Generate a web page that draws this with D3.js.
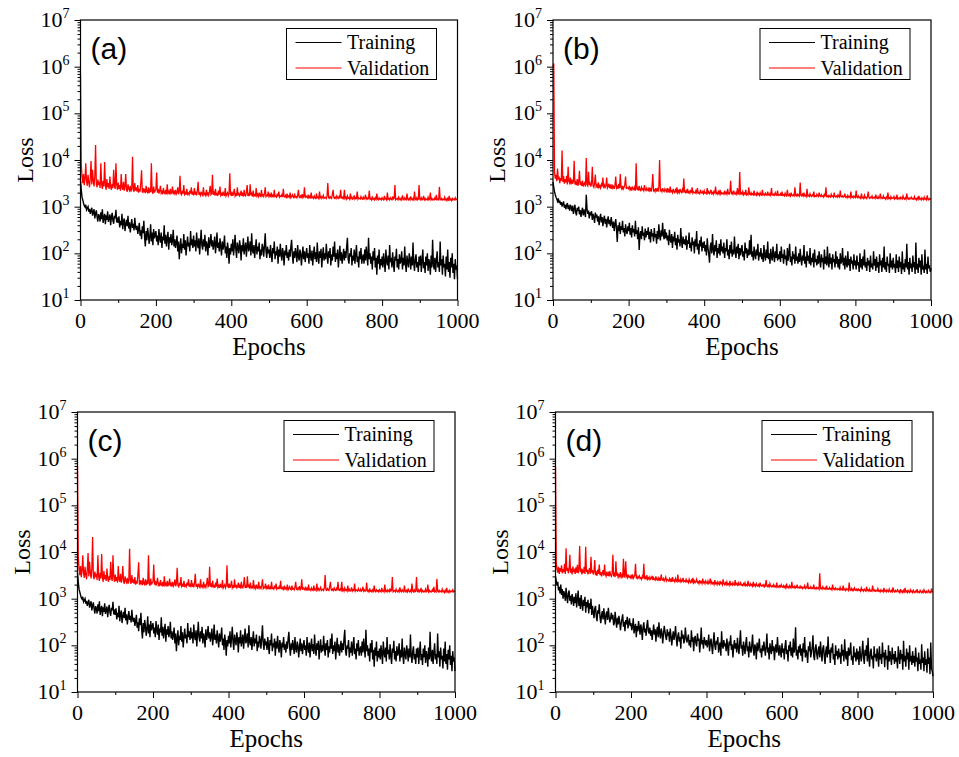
<!DOCTYPE html>
<html lang="en">
<head>
<meta charset="UTF-8">
<title>Training and validation loss</title>
<script src="https://d3js.org/d3.v7.min.js"></script>
<style>
  body { margin: 0; background: #fff; }
</style>
</head>
<body>
<svg id="chart" width="959" height="757"></svg>
<script>
// loss every 2 epochs (epoch 0 .. 1000)
const trainA = [
  3600, 2300, 1600, 1400, 1200, 1050, 980, 1100, 850, 920, 1000, 780, 900, 700, 820, 950, 640, 760, 880, 560, 720, 830, 600, 480, 690,
  620, 480, 760, 540, 880, 450, 590, 700, 420, 650, 520, 800, 470, 560, 680, 400, 600, 740, 500, 430, 640, 560, 860, 460, 580,
  450, 620, 360, 500, 400, 700, 330, 480, 560, 300, 420, 520, 380, 640, 340, 460, 280, 400, 540, 350, 430, 310, 580, 370, 320,
  390, 260, 330, 450, 240, 310, 200, 380, 270, 500, 220, 140, 300, 190, 350, 260, 160, 230, 420, 180, 280, 150, 330, 210, 250,
  300, 180, 240, 150, 330, 210, 170, 280, 130, 230, 190, 400, 160, 250, 140, 210, 290, 120, 220, 170, 260, 150, 190, 320, 140,
  200, 130, 170, 240, 110, 180, 75, 140, 210, 100, 160, 130, 260, 120, 190, 90, 150, 230, 140, 170, 110, 300, 150, 200, 130,
  240, 140, 190, 110, 280, 160, 130, 210, 95, 170, 320, 150, 120, 200, 140, 250, 110, 180, 150, 90, 220, 130, 170, 260, 140,
  190, 120, 160, 230, 100, 150, 280, 130, 170, 110, 210, 140, 90, 180, 120, 150, 240, 100, 140, 80, 170, 120, 60, 130, 95,
  160, 110, 200, 90, 140, 250, 120, 80, 170, 130, 100, 190, 140, 70, 150, 110, 210, 95, 130, 170, 85, 140, 230, 110, 130,
  180, 90, 270, 120, 100, 150, 80, 130, 200, 95, 140, 110, 170, 75, 120, 90, 160, 130, 85, 150, 270, 110, 80, 140, 100,
  120, 80, 150, 95, 65, 130, 100, 180, 75, 110, 90, 140, 60, 120, 85, 160, 95, 70, 130, 100, 55, 115, 90, 150, 80,
  105, 70, 120, 85, 140, 195, 90, 60, 110, 80, 130, 95, 65, 150, 85, 70, 120, 100, 55, 90, 140, 75, 110, 65, 95,
  130, 80, 100, 60, 150, 90, 70, 115, 55, 95, 140, 75, 105, 65, 170, 85, 60, 110, 80, 125, 50, 90, 135, 70, 100,
  75, 160, 90, 60, 110, 80, 130, 55, 95, 70, 140, 85, 180, 65, 100, 75, 120, 50, 90, 145, 70, 105, 60, 85, 125,
  70, 110, 80, 140, 215, 75, 60, 100, 85, 130, 55, 90, 70, 120, 60, 95, 150, 65, 85, 50, 110, 75, 130, 60, 80,
  95, 60, 120, 70, 140, 85, 55, 215, 75, 100, 60, 85, 45, 110, 70, 130, 50, 80, 35, 90, 60, 120, 45, 75, 55,
  85, 50, 100, 65, 40, 120, 70, 55, 90, 45, 150, 65, 80, 50, 105, 60, 40, 85, 70, 125, 50, 75, 45, 95, 60,
  70, 110, 45, 80, 55, 140, 60, 40, 90, 65, 50, 100, 75, 45, 85, 55, 170, 60, 42, 75, 95, 50, 65, 40, 85,
  55, 90, 40, 70, 120, 48, 65, 38, 85, 55, 100, 42, 75, 60, 35, 90, 50, 195, 60, 45, 80, 40, 70, 110, 50,
  65, 40, 180, 55, 75, 35, 90, 50, 60, 32, 85, 45, 120, 40, 65, 30, 80, 50, 100, 38, 60, 28, 75, 45, 55,
  28
];
const valA = [
  700000, 8000, 4500, 3200, 5000, 2900, 4000, 8500, 3500, 2800, 4800, 3300, 2600, 4200, 9500, 3000, 6200, 3600, 2700, 4500, 21000, 3100, 2600, 3800, 2900,
  3400, 2500, 8500, 3000, 2400, 3600, 2700, 9100, 2900, 2300, 3900, 2600, 3200, 2400, 4400, 2700, 2300, 3100, 2500, 6200, 2800, 2400, 8500, 3000, 2300,
  3300, 2400, 2900, 2200, 5000, 2600, 2300, 3400, 2200, 2700, 5000, 2300, 2100, 3000, 2400, 2200, 2800, 2100, 2500, 11700, 2300, 2100, 3200, 2200, 2600,
  2100, 2900, 2000, 2400, 2100, 3300, 6000, 2000, 2500, 2100, 2300, 1950, 2800, 2100, 2000, 2600, 1950, 2300, 2050, 8500, 2100, 1900, 2700, 2000, 2200,
  2300, 5400, 2000, 2400, 1900, 2200, 2800, 1950, 2100, 1850, 2500, 2000, 1900, 2300, 1850, 3000, 1950, 2100, 1850, 2400, 1900, 2000, 2700, 1850, 2100,
  1900, 2300, 1850, 2000, 2600, 1850, 2100, 4600, 1900, 1800, 2200, 1900, 2900, 1850, 2000, 1800, 2400, 1850, 1950, 1800, 2200, 1900, 2600, 1800, 2000,
  1850, 2500, 1800, 2000, 1750, 2200, 3400, 1800, 1950, 1750, 2100, 1850, 1750, 2600, 1800, 1900, 1750, 2300, 1800, 1950, 1750, 2100, 2800, 1800, 1900,
  4800, 1800, 2000, 1750, 2400, 1800, 1900, 1700, 2200, 1800, 2700, 1750, 1900, 1700, 2100, 1800, 1750, 2500, 1700, 1850, 2000, 1700, 1900, 5200, 1800,
  1750, 2100, 1700, 1900, 2400, 1700, 1850, 1700, 2600, 1750, 2000, 1700, 1800, 2200, 1700, 1900, 1650, 2300, 1750, 1700, 2000, 2900, 1700, 1850, 1700,
  3000, 1750, 1900, 1650, 2200, 1700, 1800, 1650, 2500, 1700, 1850, 1650, 2000, 1700, 1650, 2300, 1700, 1800, 1650, 1900, 2600, 1650, 1750, 1700, 2100,
  1650, 1800, 1600, 2000, 1650, 1750, 1600, 2300, 1650, 1700, 1600, 1900, 1650, 2100, 1600, 1700, 1650, 1800, 1600, 2400, 1650, 1600, 1750, 1600, 1900,
  1600, 1700, 1600, 2000, 1550, 1650, 1800, 1600, 1550, 1900, 1600, 1650, 1550, 1750, 2300, 1600, 1550, 1700, 1600, 1850, 1550, 1650, 2600, 1550, 1700,
  1600, 1550, 1800, 1550, 1650, 1500, 2000, 1550, 1600, 1500, 1700, 1550, 1500, 1900, 1550, 1600, 1500, 2100, 1550, 1650, 1500, 1600, 1750, 1500, 1550,
  1600, 1500, 1700, 3200, 1550, 1500, 1650, 1550, 1500, 1800, 2300, 1550, 1500, 1600, 1500, 1700, 1550, 1500, 1650, 1500, 2300, 1550, 1500, 1600, 1500,
  2300, 1500, 1600, 1450, 1700, 1500, 1550, 1450, 1900, 1500, 1600, 1450, 1500, 1750, 1450, 1550, 1500, 2100, 1450, 1550, 1500, 1450, 1650, 1500, 1450,
  1600, 1450, 1500, 1800, 1450, 1550, 1450, 1500, 2200, 1450, 1500, 1400, 1650, 1450, 1500, 1400, 1550, 1450, 1900, 1450, 1400, 1550, 1450, 1500, 1400,
  1550, 1450, 1400, 1700, 1450, 1500, 1400, 2000, 1450, 1500, 1400, 1550, 1450, 1400, 1650, 1450, 1500, 2900, 1400, 1450, 1500, 1400, 1600, 1450, 1400,
  1500, 1400, 1750, 1450, 1400, 1550, 1450, 1400, 1900, 1450, 1400, 1500, 1400, 1650, 1450, 1400, 1500, 1400, 2100, 1450, 1400, 1550, 1400, 1450, 2900,
  1450, 1400, 1550, 1400, 1450, 1700, 1400, 1500, 1400, 1450, 1400, 1600, 1400, 1450, 2000, 1400, 1500, 1400, 1450, 1400, 1550, 1400, 1800, 1400, 1450,
  1400, 2650, 1450, 1400, 1500, 1400, 1450, 1400, 1600, 1400, 1450, 1350, 1500, 1400, 1700, 1400, 1450, 1350, 1500, 1400, 1450, 1400, 1550, 1400, 1450,
  1400
];
const trainB = [
  3400, 2600, 2100, 1800, 1600, 1450, 1300, 1500, 1200, 1350, 1100, 1250, 1000, 1150, 1300, 950, 1100, 880, 1050, 1200, 900, 1000, 820, 1100, 950,
  800, 1050, 700, 900, 1100, 750, 650, 950, 800, 1000, 680, 850, 600, 780, 950, 650, 870, 720, 600, 1800, 900, 700, 820, 560, 760,
  650, 800, 520, 700, 600, 450, 750, 580, 680, 480, 620, 400, 560, 700, 460, 600, 380, 520, 640, 430, 550, 360, 500, 620, 420,
  520, 380, 600, 450, 350, 480, 300, 420, 540, 330, 175, 400, 300, 460, 260, 380, 320, 500, 280, 350, 230, 420, 300, 260, 380,
  300, 450, 250, 350, 220, 400, 280, 330, 230, 500, 260, 310, 200, 360, 118, 250, 300, 200, 380, 240, 280, 190, 340, 220, 300,
  250, 360, 200, 290, 170, 330, 230, 270, 180, 350, 220, 260, 160, 300, 200, 420, 240, 190, 310, 230, 450, 250, 200, 330, 210,
  280, 190, 240, 150, 320, 200, 170, 260, 130, 230, 180, 290, 150, 210, 120, 250, 170, 200, 140, 350, 180, 130, 230, 160, 200,
  150, 240, 120, 190, 160, 280, 130, 170, 110, 220, 150, 180, 100, 200, 140, 300, 120, 160, 95, 190, 140, 230, 110, 170, 130,
  180, 110, 150, 90, 210, 130, 100, 63, 140, 170, 100, 260, 120, 90, 150, 110, 190, 80, 130, 100, 160, 90, 200, 110, 140,
  100, 170, 80, 130, 110, 200, 90, 120, 75, 150, 100, 180, 85, 120, 95, 230, 110, 80, 140, 100, 160, 75, 130, 90, 120,
  150, 85, 110, 70, 170, 100, 130, 80, 120, 90, 190, 95, 250, 85, 110, 70, 140, 95, 75, 120, 90, 160, 70, 105, 85,
  130, 75, 100, 65, 150, 90, 70, 120, 80, 180, 75, 100, 60, 125, 85, 70, 140, 90, 65, 110, 80, 160, 70, 95, 75,
  110, 65, 140, 80, 95, 60, 120, 75, 90, 55, 130, 70, 100, 160, 65, 85, 55, 110, 75, 95, 60, 140, 70, 85, 60,
  100, 65, 125, 75, 55, 90, 70, 150, 60, 85, 50, 110, 70, 90, 60, 130, 55, 80, 65, 100, 50, 120, 65, 75, 55,
  90, 60, 110, 70, 50, 95, 65, 80, 45, 120, 60, 85, 55, 140, 65, 50, 100, 60, 80, 45, 95, 65, 75, 50, 110,
  60, 85, 50, 75, 45, 100, 60, 70, 130, 55, 80, 45, 90, 60, 50, 110, 55, 75, 42, 85, 60, 70, 45, 95, 55,
  70, 45, 90, 55, 65, 40, 100, 50, 75, 45, 85, 55, 120, 50, 65, 42, 80, 55, 70, 40, 90, 50, 60, 45, 110,
  55, 75, 42, 85, 50, 65, 38, 95, 55, 70, 40, 80, 50, 140, 45, 65, 40, 85, 55, 60, 38, 100, 50, 70, 45,
  80, 50, 60, 38, 95, 48, 70, 40, 85, 50, 65, 36, 110, 45, 60, 40, 75, 50, 160, 45, 65, 35, 80, 48, 60,
  40, 90, 50, 65, 36, 170, 45, 60, 38, 80, 50, 70, 35, 95, 45, 55, 38, 120, 45, 60, 36, 85, 48, 55, 40,
  48
];
const valB = [
  1000000, 1170000, 5500, 4000, 4800, 3500, 6600, 3800, 4400, 3200, 4100, 3600, 16000, 3400, 4500, 3100, 3900, 3300, 4600, 3000, 7200, 3500, 3200, 4200, 3000,
  3800, 3100, 3500, 9600, 3000, 3300, 2900, 3900, 2800, 3400, 5900, 2900, 3200, 2800, 3600, 2700, 3100, 3300, 2700, 11000, 3000, 2800, 5600, 2900, 3200,
  2700, 3100, 7200, 2800, 2600, 3200, 4900, 2700, 2900, 2500, 3300, 2600, 2800, 2500, 3000, 2700, 4200, 2500, 2900, 2600, 2800, 4200, 2500, 2700, 3100,
  2500, 2800, 2400, 3000, 2500, 2700, 2400, 2900, 4400, 2500, 2700, 2400, 3100, 2500, 5000, 2600, 2400, 2800, 2400, 2600, 3000, 4400, 2400, 2600, 2500,
  2400, 2800, 2300, 2500, 2200, 2700, 2400, 2300, 2600, 2200, 8500, 2300, 2500, 2200, 2800, 2300, 2200, 2600, 2300, 2400, 2200, 2900, 2300, 2200, 2500,
  2300, 2200, 2600, 2200, 2400, 2100, 2700, 5000, 2200, 2300, 2100, 2500, 2200, 2400, 2100, 2600, 10000, 2200, 2300, 2100, 2500, 2200, 2100, 2400, 2200,
  2100, 2500, 2100, 2300, 2000, 2700, 2100, 2200, 2000, 2400, 2100, 2000, 2300, 2100, 2600, 2000, 2200, 2000, 2400, 2100, 2000, 2300, 2000, 4000, 2100,
  2000, 2200, 1950, 2400, 2000, 2100, 1950, 2300, 2000, 2600, 1950, 2100, 2000, 1950, 2200, 2000, 2500, 1950, 2000, 1900, 2300, 2000, 1950, 2100, 1900,
  2200, 1950, 2000, 1900, 2500, 1950, 2100, 1900, 2000, 2300, 1900, 2000, 1850, 2200, 1900, 2700, 1900, 2000, 1850, 2100, 1900, 2300, 1850, 2000, 1900,
  1950, 1850, 2200, 1900, 2000, 1850, 2400, 1900, 1850, 2100, 3600, 1850, 2000, 1850, 2200, 1900, 1850, 2000, 1850, 2500, 1900, 1850, 5500, 1900, 2000,
  1850, 2100, 1800, 1950, 1850, 2300, 1800, 1900, 1800, 2600, 1850, 1800, 2000, 1800, 1900, 1800, 2200, 1800, 1850, 1750, 2100, 1800, 1900, 1750, 2000,
  1800, 1750, 2300, 1800, 1850, 1750, 1950, 1800, 1750, 2100, 1800, 1750, 1900, 1750, 2500, 1800, 1750, 1850, 1750, 2000, 1800, 1750, 2200, 1750, 1800,
  1750, 1900, 1700, 2100, 1750, 1800, 1700, 1950, 1750, 1700, 2300, 1750, 1700, 1850, 1700, 2000, 1750, 1700, 1800, 1700, 2600, 1750, 1700, 1850, 1700,
  1800, 1700, 3300, 1750, 1700, 1850, 1700, 2000, 1700, 1750, 1650, 2400, 1700, 1750, 1650, 1900, 1700, 1650, 1800, 1700, 2100, 1650, 1700, 1650, 1850,
  1700, 1650, 2000, 1700, 1650, 1800, 1650, 1700, 1600, 1900, 1650, 2600, 1650, 1700, 1600, 1750, 1650, 1600, 1850, 1650, 1700, 1600, 2000, 1650, 1600,
  1700, 1600, 1800, 1650, 1600, 2200, 1650, 1600, 1700, 1600, 1650, 1900, 1600, 1650, 1550, 1750, 1600, 1650, 1550, 2100, 1600, 1650, 1550, 1700, 1600,
  1550, 2200, 1600, 1550, 1700, 1550, 1600, 1500, 1900, 1550, 1600, 1500, 1750, 1550, 1600, 1500, 1650, 2100, 1550, 1500, 1600, 1550, 1700, 1500, 1550,
  1600, 1500, 1800, 1550, 1500, 1650, 1500, 1550, 1900, 1500, 1550, 1500, 1700, 1500, 1550, 1450, 1600, 1500, 2000, 1500, 1550, 1450, 1650, 1500, 1550,
  1500, 1650, 1450, 1550, 1500, 1800, 1450, 1500, 1550, 1450, 1600, 1500, 1450, 1700, 1500, 1450, 1550, 1450, 1900, 1500, 1450, 1550, 1450, 1500, 1600,
  1450, 1500, 1450, 1650, 1450, 1500, 1400, 1550, 1450, 1700, 1450, 1500, 1400, 1550, 1450, 1400, 1600, 1450, 1500, 1400, 1750, 1450, 1400, 1500, 1450,
  1500
];
const trainD = [
  3000, 2400, 1900, 2300, 1500, 1800, 1300, 2000, 1200, 1600, 1000, 1450, 1250, 900, 1700, 1100, 800, 1300, 1500, 900, 1150, 750, 1250, 1000, 700,
  1100, 800, 1300, 650, 950, 1500, 700, 1050, 600, 1200, 800, 550, 950, 700, 1100, 500, 850, 650, 950, 480, 800, 600, 1000, 450, 700,
  520, 380, 610, 700, 420, 330, 560, 480, 760, 390, 300, 450, 540, 360, 620, 410, 280, 470, 530, 350, 640, 420, 310, 380, 500,
  360, 450, 270, 300, 520, 340, 240, 390, 280, 430, 330, 210, 290, 370, 460, 250, 320, 200, 350, 280, 410, 230, 300, 380, 260,
  300, 210, 250, 380, 180, 230, 290, 150, 260, 200, 330, 240, 170, 280, 220, 130, 250, 310, 190, 230, 160, 270, 350, 200, 180,
  240, 160, 210, 130, 190, 280, 170, 220, 120, 200, 250, 150, 310, 180, 140, 230, 190, 110, 170, 260, 200, 150, 130, 220, 170,
  180, 120, 230, 160, 100, 150, 200, 130, 170, 260, 140, 95, 160, 190, 120, 150, 85, 210, 140, 170, 110, 130, 240, 150, 115,
  140, 170, 100, 130, 90, 210, 120, 150, 75, 130, 160, 110, 95, 180, 125, 140, 70, 115, 240, 105, 130, 85, 150, 120, 100,
  130, 90, 115, 170, 75, 110, 140, 95, 65, 120, 190, 100, 80, 125, 105, 150, 70, 95, 115, 60, 200, 100, 85, 130, 95,
  110, 75, 140, 95, 60, 120, 100, 165, 80, 105, 55, 95, 130, 85, 110, 70, 145, 90, 65, 115, 210, 85, 100, 60, 120,
  90, 65, 110, 150, 75, 95, 55, 120, 85, 70, 100, 170, 80, 60, 105, 90, 50, 115, 75, 95, 140, 70, 85, 55, 100,
  75, 120, 85, 60, 95, 180, 70, 90, 50, 110, 80, 65, 130, 75, 95, 48, 85, 105, 70, 150, 80, 60, 100, 75, 55,
  110, 70, 85, 50, 95, 130, 65, 80, 45, 100, 75, 120, 60, 90, 55, 140, 70, 85, 245, 60, 80, 50, 95, 70, 105,
  60, 85, 45, 110, 70, 150, 55, 80, 65, 42, 95, 75, 120, 55, 70, 90, 165, 60, 48, 85, 105, 65, 50, 80, 95,
  55, 120, 70, 45, 85, 100, 60, 40, 75, 95, 55, 155, 65, 80, 42, 90, 70, 110, 50, 65, 38, 100, 60, 75, 50,
  85, 55, 70, 40, 105, 60, 80, 45, 135, 65, 50, 75, 36, 90, 60, 70, 115, 48, 60, 38, 95, 55, 70, 45, 85,
  50, 75, 38, 95, 60, 45, 70, 125, 55, 40, 80, 60, 100, 45, 145, 55, 35, 70, 85, 50, 60, 32, 95, 55, 65,
  45, 85, 60, 35, 95, 50, 65, 40, 115, 55, 70, 34, 80, 50, 60, 30, 100, 45, 75, 55, 38, 90, 50, 65, 40,
  75, 45, 55, 32, 95, 60, 40, 80, 50, 65, 30, 125, 45, 60, 35, 85, 50, 70, 30, 100, 45, 60, 38, 75, 42,
  60, 35, 90, 45, 55, 28, 70, 40, 50, 30, 105, 42, 55, 28, 75, 38, 50, 26, 85, 40, 55, 24, 115, 32, 28,
  22
];
const valD = [
  670000, 6000, 4200, 3600, 4800, 3400, 4500, 3800, 5200, 3500, 4300, 3700, 5600, 3400, 12000, 3900, 4600, 3500, 4200, 8700, 3600, 4400, 3300, 4900, 3700,
  4100, 3400, 4700, 3600, 5300, 3500, 4200, 13500, 3700, 4400, 3300, 4000, 3600, 4800, 3400, 13000, 3700, 4200, 3300, 3900, 4500, 3400, 7900, 3600, 4100,
  3300, 3800, 6700, 3200, 3600, 3100, 4200, 3400, 5400, 3200, 3700, 3000, 3500, 4100, 3100, 5400, 3300, 3000, 3800, 3100, 3500, 3000, 3900, 3200, 3000,
  3400, 8700, 3000, 3600, 2900, 6300, 3100, 3400, 2900, 3300, 3000, 3700, 2900, 3200, 2800, 7200, 3000, 2900, 6300, 3100, 2800, 3300, 2900, 3000, 2800,
  3100, 2800, 3300, 2700, 2900, 3200, 5600, 2700, 3000, 2700, 2900, 3100, 2700, 2800, 2600, 3000, 2700, 5600, 2600, 2900, 2700, 3200, 2600, 2800, 2600,
  2900, 2600, 2700, 3100, 2500, 2800, 2600, 2500, 3000, 2600, 2500, 2800, 2500, 2700, 2400, 3300, 2600, 2500, 2700, 2400, 2600, 2900, 2400, 2600, 2500,
  2400, 2700, 2400, 2600, 2300, 2900, 2400, 2500, 2300, 2700, 2400, 2300, 3300, 2400, 2500, 2300, 2600, 2300, 2400, 2800, 2300, 2400, 2300, 2600, 2300,
  2400, 2200, 2600, 2300, 2200, 2500, 2300, 2800, 2200, 2400, 2200, 2300, 2600, 2200, 2300, 2100, 2500, 2200, 2300, 2100, 2700, 2200, 2300, 2100, 2400,
  2200, 2100, 2400, 2100, 2200, 2700, 2100, 2300, 2100, 2200, 2000, 2500, 2100, 2200, 2000, 2300, 2100, 2000, 2400, 2100, 2200, 2000, 2600, 2100, 2000,
  2200, 2000, 2300, 2000, 2100, 1950, 2400, 2000, 2100, 1950, 2200, 2000, 1950, 2500, 2000, 2100, 1950, 2200, 1950, 2000, 2300, 1950, 2000, 1900, 2100,
  1950, 2200, 1900, 2000, 1900, 2400, 1950, 1900, 2100, 1900, 2000, 1850, 2300, 1900, 2000, 1850, 2100, 1900, 1850, 2000, 1850, 2200, 1900, 1850, 1950,
  1850, 2000, 1800, 1900, 2500, 1850, 1800, 1950, 1800, 2100, 1850, 1800, 1900, 1800, 2000, 1800, 1850, 1750, 2200, 1800, 1850, 1750, 1900, 1800, 2000,
  1800, 1750, 1900, 1750, 1850, 1700, 2100, 1750, 1800, 1700, 1900, 1750, 1700, 2300, 1750, 1800, 1700, 1850, 1700, 1750, 2000, 1700, 1750, 1700, 1850,
  1700, 1800, 1650, 1750, 1700, 1900, 1650, 1750, 1700, 2200, 1650, 1700, 1650, 1800, 1650, 1700, 1650, 2000, 1650, 1700, 1600, 1750, 1650, 1700, 1600,
  3500, 1650, 1700, 1600, 1800, 1650, 1600, 1700, 1600, 1900, 1600, 1650, 1600, 1750, 1600, 1650, 1550, 2000, 1600, 1650, 1550, 1700, 1600, 1550, 1650,
  1600, 1550, 1750, 1550, 1600, 1550, 1900, 1550, 1600, 1500, 1650, 1550, 1600, 1500, 2200, 1550, 1500, 1650, 1500, 1600, 1500, 1700, 1550, 1500, 1600,
  1500, 1600, 1500, 1550, 1450, 1700, 1500, 1550, 1450, 1600, 1500, 1450, 1800, 1500, 1550, 1450, 1600, 1450, 1500, 1450, 1900, 1500, 1450, 1550, 1450,
  1500, 1450, 1650, 1450, 1500, 1400, 1550, 1450, 1500, 1400, 1700, 1450, 1500, 1400, 1550, 1450, 1400, 1600, 1450, 1400, 1500, 1400, 1750, 1450, 1400,
  1500, 1400, 1450, 1550, 1400, 1450, 1350, 1600, 1400, 1450, 1350, 1500, 1400, 1700, 1400, 1450, 1350, 1500, 1400, 1350, 1550, 1400, 1450, 1350, 1500,
  1400, 1350, 1450, 1400, 1600, 1350, 1400, 1350, 1500, 1400, 1350, 1450, 1350, 1550, 1400, 1350, 1450, 1350, 1400, 1500, 1350, 1400, 1350, 1650, 1400,
  1400
];

const maxEpoch = 1000;
const xTicks = [0, 200, 400, 600, 800, 1000];
const xMinorTicks = [100, 300, 500, 700, 900];
const yExponents = [1, 2, 3, 4, 5, 6, 7];
const seriesNames = ["Training", "Validation"];
const seriesColors = ["#000000", "#ff0000"];

const serif = '"Liberation Serif", "Times New Roman", Times, serif';
const sans = '"Liberation Sans", Arial, Helvetica, sans-serif';

// panel (c) shows the same run as panel (a)
const panels = [
  { tag: "(a)", left: 80.5, right: 457.5, top: 20, bottom: 300, train: trainA, val: valA },
  { tag: "(b)", left: 553, right: 931, top: 20, bottom: 300, train: trainB, val: valB },
  { tag: "(c)", left: 77.5, right: 455, top: 412, bottom: 692, train: trainA, val: valA },
  { tag: "(d)", left: 555.5, right: 933, top: 412, bottom: 692, train: trainD, val: valD }
];

const svg = d3.select("#chart");

panels.forEach(p => {
  const x = d3.scaleLinear().domain([0, maxEpoch]).range([p.left, p.right]);
  const y = d3.scaleLog().domain([10, 1e7]).range([p.bottom, p.top]);
  const g = svg.append("g");

  const minorY = [];
  yExponents.slice(0, -1).forEach(e => {
    for (let k = 2; k <= 9; k++) minorY.push(k * Math.pow(10, e));
  });

  // ticks
  const tickAxis = (axis, tr) => g.append("g")
    .attr("transform", tr)
    .call(axis.tickFormat("").tickSizeOuter(0))
    .call(a => a.select(".domain").remove());
  tickAxis(d3.axisLeft(y).tickValues(minorY).tickSize(3), `translate(${p.left},0)`);
  tickAxis(d3.axisLeft(y).tickValues(yExponents.map(e => Math.pow(10, e))).tickSize(6), `translate(${p.left},0)`);
  tickAxis(d3.axisBottom(x).tickValues(xMinorTicks).tickSize(3), `translate(0,${p.bottom})`);
  tickAxis(d3.axisBottom(x).tickValues(xTicks).tickSize(6), `translate(0,${p.bottom})`);
  g.selectAll(".tick line").attr("stroke", "#000").attr("stroke-width", 1);

  // tick labels
  g.selectAll(".xlab")
    .data(xTicks)
    .enter()
    .append("text")
    .attr("x", d => x(d))
    .attr("y", p.bottom + 28)
    .attr("text-anchor", "middle")
    .style("font-family", serif)
    .style("font-size", "22px")
    .text(d => d);

  const ylab = g.selectAll(".ylab")
    .data(yExponents)
    .enter()
    .append("text")
    .attr("x", p.left - 11)
    .attr("y", d => y(Math.pow(10, d)) + 7)
    .attr("text-anchor", "end")
    .style("font-family", serif)
    .style("font-size", "22px");
  ylab.append("tspan").text("10");
  ylab.append("tspan")
    .attr("dy", -9)
    .style("font-size", "14px")
    .text(d => d);

  // data
  const line = d3.line()
    .x((d, i, arr) => x(i * maxEpoch / (arr.length - 1)))
    .y(d => y(d));

  g.append("path")
    .datum(p.val)
    .attr("fill", "none")
    .attr("stroke", seriesColors[1])
    .attr("stroke-width", 1.3)
    .attr("d", line);
  g.append("path")
    .datum(p.train)
    .attr("fill", "none")
    .attr("stroke", seriesColors[0])
    .attr("stroke-width", 1.4)
    .attr("d", line);

  // frame
  g.append("rect")
    .attr("x", p.left)
    .attr("y", p.top)
    .attr("width", p.right - p.left)
    .attr("height", p.bottom - p.top)
    .attr("fill", "none")
    .attr("stroke", "#000")
    .attr("stroke-width", 1.2);

  // axis titles
  g.append("text")
    .attr("transform", `translate(${p.left - 48},${(p.top + p.bottom) / 2}) rotate(-90)`)
    .attr("text-anchor", "middle")
    .style("font-family", serif)
    .style("font-size", "24px")
    .text("Loss");
  g.append("text")
    .attr("x", (p.left + p.right) / 2)
    .attr("y", p.bottom + 55)
    .attr("text-anchor", "middle")
    .style("font-family", serif)
    .style("font-size", "25px")
    .text("Epochs");

  // panel tag
  g.append("text")
    .attr("x", p.left + 10)
    .attr("y", p.top + 39)
    .style("font-family", sans)
    .style("font-size", "30px")
    .text(p.tag);

  // legend
  const lg = g.append("g").attr("transform", `translate(${p.right - 171},${p.top + 8.5})`);
  lg.append("rect")
    .attr("width", 150)
    .attr("height", 51)
    .attr("fill", "#fff")
    .attr("stroke", "#000")
    .attr("stroke-width", 1);
  seriesNames.forEach((name, i) => {
    lg.append("line")
      .attr("x1", 9).attr("x2", 55)
      .attr("y1", 14 + i * 25.5).attr("y2", 14 + i * 25.5)
      .attr("stroke", seriesColors[i])
      .attr("stroke-width", 1.2);
    lg.append("text")
      .attr("x", 60.5)
      .attr("y", 20.5 + i * 25.5)
      .style("font-family", serif)
      .style("font-size", "20px")
      .text(name);
  });
});
</script>
</body>
</html>
